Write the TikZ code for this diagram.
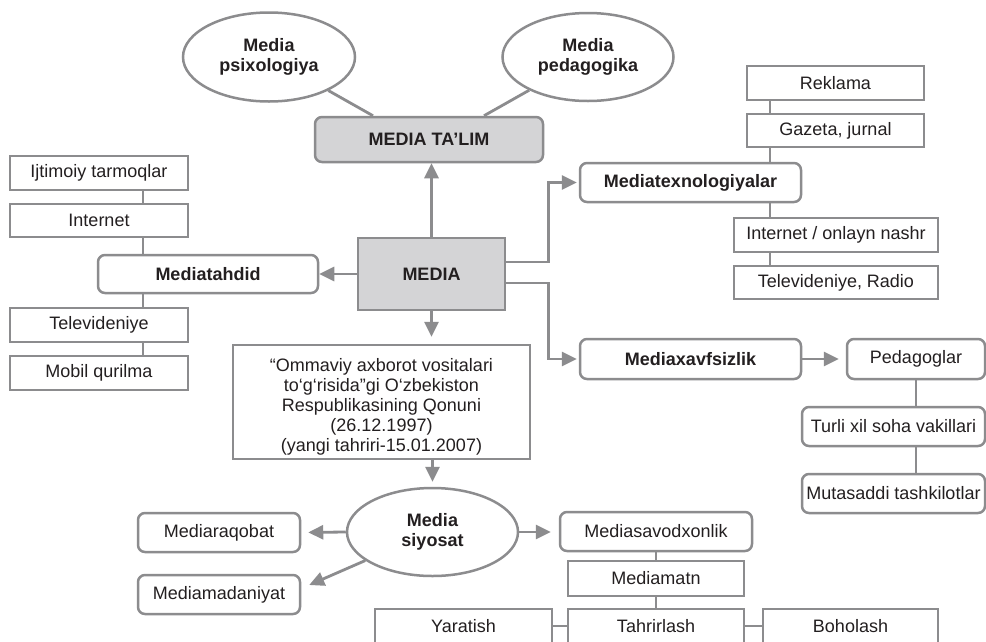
\documentclass[tikz,border=0pt]{standalone}
\usepackage{fontspec}
\setmainfont{Liberation Sans}
\usetikzlibrary{shapes.geometric,arrows.meta}
\definecolor{lg}{HTML}{8C8C8E}
\definecolor{gfill}{HTML}{D4D4D6}
\definecolor{txt}{HTML}{231F20}
\tikzset{
  base/.style={draw=lg, line width=2.5pt, fill=white, text=txt, inner sep=0pt,
    font=\fontsize{18}{20}\selectfont, align=center},
  sbox/.style={base, rectangle},
  rbox/.style={base, rectangle, rounded corners=7pt},
  bbox/.style={rbox, font=\fontsize{18}{20}\selectfont\bfseries},
  ell/.style={base, ellipse, font=\fontsize{18}{20}\selectfont\bfseries},
  conn/.style={draw=lg, line width=2.8pt},
  arr/.style={conn, -{Triangle[length=15pt,width=14pt]}},
}
\begin{document}
\begin{tikzpicture}[x=1pt,y=-1pt]
\clip (0,0) rectangle (986,641);
\fill[white] (0,0) rectangle (986,641);
% top ellipses
\node[ell, minimum width=172pt, minimum height=89pt] (psix) at (269,57) {Media\\psixologiya};
\node[ell, minimum width=171pt, minimum height=88pt] (ped) at (588,57) {Media\\pedagogika};
\node[bbox, fill=gfill, minimum width=228pt, minimum height=45pt] (talim) at (429,139.5) {MEDIA TA’LIM};
% center
\node[sbox, fill=gfill, minimum width=147pt, minimum height=72pt, font=\fontsize{18}{20}\selectfont\bfseries] (media) at (431.5,274) {MEDIA};
% left
\node[bbox, minimum width=220pt, minimum height=38pt] (tahdid) at (208,274) {Mediatahdid};
\node[sbox, minimum width=178pt, minimum height=34pt] (ijt) at (99,173) {Ijtimoiy tarmoqlar};
\node[sbox, minimum width=178pt, minimum height=33pt] (inet) at (99,220.5) {Internet};
\node[sbox, minimum width=178pt, minimum height=34pt] (tv) at (99,325) {Televideniye};
\node[sbox, minimum width=178pt, minimum height=34pt] (mobil) at (99,373) {Mobil qurilma};
\coordinate (lx) at (143,0);
% law
\node[sbox, minimum width=297pt, minimum height=114pt] (law) at (381.5,402)
  {\rule{0pt}{22pt}“Ommaviy axborot vositalari\\to‘g‘risida”gi O‘zbekiston\\Respublikasining Qonuni\\(26.12.1997)\\(yangi tahriri-15.01.2007)};
% siyosat
\node[ell, minimum width=171pt, minimum height=88pt] (siy) at (432.5,532) {Media\\siyosat};
\node[rbox, minimum width=162pt, minimum height=39pt] (raq) at (219,532.5) {Mediaraqobat};
\node[rbox, minimum width=162pt, minimum height=39pt] (mad) at (219,594.5) {Mediamadaniyat};
\node[rbox, minimum width=192pt, minimum height=39pt] (savod) at (656,531.5) {Mediasavodxonlik};
\node[sbox, minimum width=176pt, minimum height=35pt] (matn) at (656,578.5) {Mediamatn};
\node[sbox, minimum width=176pt, minimum height=34pt] (tahrir) at (656,626) {Tahrirlash};
\node[sbox, minimum width=177pt, minimum height=34pt] (yarat) at (463.5,626) {Yaratish};
\node[sbox, minimum width=175pt, minimum height=34pt] (bahol) at (850.5,626) {Boholash};
% right top
\node[bbox, minimum width=221pt, minimum height=39pt] (texno) at (690.5,182.5) {Mediatexnologiyalar};
\node[sbox, minimum width=177pt, minimum height=34pt] (rek) at (835.5,83) {Reklama};
\node[sbox, minimum width=177pt, minimum height=33pt] (gaz) at (835.5,130.5) {Gazeta, jurnal};
\node[sbox, minimum width=204pt, minimum height=34pt] (onl) at (836,235) {Internet / onlayn nashr};
\node[sbox, minimum width=204pt, minimum height=33pt] (tvr) at (836,282.5) {Televideniye, Radio};
\coordinate (rx) at (770,0);
% right bottom
\node[bbox, minimum width=221pt, minimum height=40pt] (xavf) at (690.5,359) {Mediaxavfsizlik};
\node[rbox, minimum width=138pt, minimum height=40pt] (pedg) at (916,359) {Pedagoglar};
\node[rbox, minimum width=183pt, minimum height=39pt] (turli) at (893.5,426.5) {Turli xil soha vakillari};
\node[rbox, minimum width=183pt, minimum height=39pt] (mut) at (893.5,493.5) {Mutasaddi tashkilotlar};

% connectors
\draw[conn] (psix) -- ([xshift=-56pt]talim.north);
\draw[conn] (ped) -- ([xshift=55pt]talim.north);
\draw[arr] (media.north) -- (media.north |- talim.south);
\draw[arr] (media.west) -- (tahdid.east);
\draw[conn] (ijt.south -| lx) -- (inet.north -| lx);
\draw[conn] (inet.south -| lx) -- (tahdid.north -| lx);
\draw[conn] (tahdid.south -| lx) -- (tv.north -| lx);
\draw[conn] (tv.south -| lx) -- (mobil.north -| lx);
\draw[arr, shorten >=7pt] (media.south) -- (media.south |- law.north);
\draw[arr, shorten >=5pt] (law.south -| siy.north) -- (siy.north);
\draw[arr, shorten >=7pt] (siy.west) -- (raq.east);
\draw[arr] (siy.-157) -- ([shift={(8pt,9.5pt)}]mad.east);
\draw[arr, shorten >=8pt] (siy.east) -- (siy.east -| savod.west);
\draw[conn] (savod.south) -- (matn.north);
\draw[conn] (matn.south) -- (tahrir.north);
\draw[conn] (yarat.east) -- (tahrir.west);
\draw[conn] (tahrir.east) -- (bahol.west);
\draw[arr, shorten >=2pt] ([yshift=12pt]media.east) -| ([xshift=-30pt]texno.west) -- (texno.west);
\draw[arr, shorten >=2pt] ([yshift=-9pt]media.east) -| ([xshift=-30pt]xavf.west) -- (xavf.west);
\draw[conn] (rek.south -| rx) -- (gaz.north -| rx);
\draw[conn] (gaz.south -| rx) -- (texno.north -| rx);
\draw[conn] (texno.south -| rx) -- (onl.north -| rx);
\draw[conn] (onl.south -| rx) -- (tvr.north -| rx);
\draw[arr, shorten >=7pt] (xavf.east) -- (pedg.west);
\draw[conn] (pedg.south) -- (turli.north -| pedg.south);
\draw[conn] (turli.south -| pedg.south) -- (mut.north -| pedg.south);
\end{tikzpicture}
\end{document}
